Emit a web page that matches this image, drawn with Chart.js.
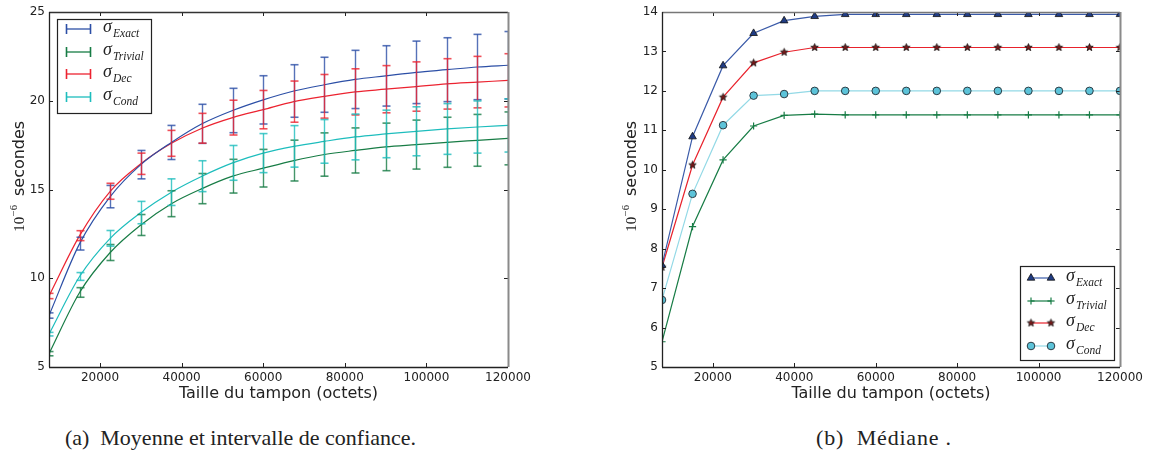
<!DOCTYPE html>
<html lang="fr">
<head>
<meta charset="utf-8">
<title>Temps de calcul selon la taille du tampon</title>
<script src="https://cdn.jsdelivr.net/npm/chart.js@4.4.1/dist/chart.umd.min.js"></script>
<style>
  html, body { margin: 0; padding: 0; background: #fff; }
  body { width: 1153px; height: 456px; position: relative; overflow: hidden; }
  .panneau { position: absolute; top: 0; height: 410px; }
  #panneauMoy { left: 0; width: 560px; }
  #panneauMed { left: 600px; width: 553px; }
  .sous-titre { position: absolute; top: 424px; height: 28px; line-height: 28px; font-family: 'Liberation Serif', serif; font-size: 22px; color: #222; text-align: center; white-space: pre; }
</style>
</head>
<body>
<div class="panneau" id="panneauMoy"><canvas id="chartMoyenne" width="560" height="410"></canvas></div>
<div class="panneau" id="panneauMed"><canvas id="chartMediane" width="553" height="410"></canvas></div>
<div class="sous-titre" style="left:0;width:481px;">(a)  Moyenne et intervalle de confiance.</div>
<div class="sous-titre" style="left:784px;width:200px;letter-spacing:0.8px;">(b)  Médiane .</div>
<script>
// tailles de tampon mesurées (octets)
const tailles = [7500, 15000, 22500, 30000, 37500, 45000, 52500, 60000, 67500, 75000, 82500, 90000, 97500, 105000, 112500, 120000];

// (a) moyenne et demi-largeur de l'intervalle de confiance, en 10^-6 s
const moyExact = [7.9, 11.95, 14.6, 16.4, 17.65, 18.7, 19.45, 20.05, 20.55, 20.9, 21.2, 21.4, 21.6, 21.75, 21.9, 22.0];
const icExact = [0.15, 0.36, 0.63, 0.8, 0.96, 1.1, 1.25, 1.36, 1.48, 1.55, 1.64, 1.7, 1.76, 1.8, 1.84, 1.9];
const moyTrivial = [5.75, 9.2, 11.45, 13.0, 14.2, 15.05, 15.75, 16.2, 16.63, 16.97, 17.2, 17.4, 17.53, 17.66, 17.77, 17.88];
const icTrivial = [0.12, 0.27, 0.45, 0.59, 0.73, 0.85, 0.95, 1.06, 1.15, 1.22, 1.27, 1.34, 1.38, 1.41, 1.46, 1.49];
const moyDec = [9.0, 12.4, 14.9, 16.45, 17.6, 18.45, 19.05, 19.5, 19.95, 20.25, 20.5, 20.65, 20.8, 20.95, 21.05, 21.15];
const icDec = [0.15, 0.28, 0.45, 0.6, 0.73, 0.84, 0.98, 1.08, 1.16, 1.23, 1.3, 1.33, 1.39, 1.42, 1.45, 1.5];
const moyCond = [6.85, 10.1, 12.25, 13.7, 14.85, 15.75, 16.5, 17.05, 17.43, 17.71, 17.96, 18.13, 18.28, 18.41, 18.52, 18.61];
const icCond = [0.1, 0.22, 0.44, 0.63, 0.75, 0.87, 0.98, 1.1, 1.17, 1.23, 1.29, 1.34, 1.38, 1.43, 1.47, 1.5];

// (b) médiane, en 10^-6 s
const medExact = [7.58, 10.84, 12.64, 13.46, 13.78, 13.89, 13.94, 13.94, 13.94, 13.94, 13.94, 13.94, 13.94, 13.94, 13.94, 13.94];
const medTrivial = [5.64, 8.56, 10.25, 11.11, 11.38, 11.41, 11.39, 11.39, 11.39, 11.39, 11.39, 11.39, 11.39, 11.39, 11.39, 11.39];
const medDec = [7.53, 10.12, 11.84, 12.71, 12.98, 13.1, 13.1, 13.1, 13.1, 13.1, 13.1, 13.1, 13.1, 13.1, 13.1, 13.1];
const medCond = [6.7, 9.39, 11.13, 11.88, 11.92, 12.0, 12.0, 12.0, 12.0, 12.0, 12.0, 12.0, 12.0, 12.0, 12.0, 12.0];

// graduations
const ticksX = [20000, 40000, 60000, 80000, 100000, 120000];
const ticksYMoy = [5, 10, 15, 20, 25];
const ticksYMed = [5, 6, 7, 8, 9, 10, 11, 12, 13, 14];

const policeAxes = { family: 'DejaVu Sans', size: 12 };

// étoile pleine (marqueur '*' de matplotlib), Chart.js n'a qu'un astérisque
function creerEtoile(rayon, remplissage) {
  const c = document.createElement('canvas');
  const t = Math.ceil(rayon * 2 + 3);
  c.width = t; c.height = t;
  const g = c.getContext('2d');
  g.beginPath();
  for (let i = 0; i < 10; i++) {
    const r = i % 2 === 0 ? rayon : rayon * 0.42;
    const ang = -Math.PI / 2 + i * Math.PI / 5;
    const px = t / 2 + r * Math.cos(ang);
    const py = t / 2 + r * Math.sin(ang);
    if (i === 0) g.moveTo(px, py); else g.lineTo(px, py);
  }
  g.closePath();
  g.fillStyle = remplissage;
  g.fill();
  g.strokeStyle = '#111';
  g.lineWidth = 0.8;
  g.stroke();
  return c;
}
const etoile = creerEtoile(3.9, '#7a1818');

function trait(ctx, x1, y1, x2, y2) {
  ctx.beginPath();
  ctx.moveTo(x1, y1);
  ctx.lineTo(x2, y2);
  ctx.stroke();
}

// barres d'erreur lues dans dataset.ecarts
const pluginBarres = {
  id: 'barresErreur',
  afterDatasetsDraw(chart) {
    const { ctx, chartArea: a, scales } = chart;
    ctx.save();
    ctx.beginPath();
    ctx.rect(a.left, a.top, a.right - a.left, a.bottom - a.top);
    ctx.clip();
    ctx.globalAlpha = 0.8;
    chart.data.datasets.forEach(ds => {
      if (!ds.ecarts) return;
      ctx.strokeStyle = ds.borderColor;
      ds.data.forEach((p, i) => {
        const x = Math.round(scales.x.getPixelForValue(p.x)) + 0.5;
        const yh = scales.y.getPixelForValue(p.y + ds.ecarts[i]);
        const yb = scales.y.getPixelForValue(p.y - ds.ecarts[i]);
        ctx.lineWidth = 1.4;
        trait(ctx, x, yh, x, yb);
        ctx.lineWidth = 1.6;
        trait(ctx, x - 4, yh, x + 4, yh);
        trait(ctx, x - 4, yb, x + 4, yb);
      });
    });
    ctx.restore();
  }
};

function dessinerMarqueur(ctx, ds, x, y) {
  const r = ds.pointRadius;
  ctx.save();
  ctx.fillStyle = ds.pointBackgroundColor;
  ctx.strokeStyle = ds.pointBorderColor;
  ctx.lineWidth = ds.pointBorderWidth;
  if (ds.pointStyle === 'triangle') {
    ctx.beginPath();
    ctx.moveTo(x, y - r);
    ctx.lineTo(x + r * 0.866, y + r / 2);
    ctx.lineTo(x - r * 0.866, y + r / 2);
    ctx.closePath();
    ctx.fill(); ctx.stroke();
  } else if (ds.pointStyle === 'cross') {
    trait(ctx, x - r, y, x + r, y);
    trait(ctx, x, y - r, x, y + r);
  } else if (ds.pointStyle === 'circle') {
    ctx.beginPath();
    ctx.arc(x, y, r, 0, Math.PI * 2);
    ctx.fill(); ctx.stroke();
  } else if (ds.pointStyle instanceof HTMLCanvasElement) {
    ctx.drawImage(ds.pointStyle, x - ds.pointStyle.width / 2, y - ds.pointStyle.height / 2);
  }
  ctx.restore();
}

// cadre, graduations intérieures, titre vertical et légende
const pluginCadre = {
  id: 'cadre',
  afterDraw(chart, args, opts) {
    const { ctx, chartArea: a, scales } = chart;
    ctx.save();
    ctx.strokeStyle = '#222';
    ctx.lineWidth = 1;
    ticksX.forEach(v => {
      const x = Math.round(scales.x.getPixelForValue(v)) + 0.5;
      trait(ctx, x, a.bottom, x, a.bottom - 4);
      trait(ctx, x, a.top, x, a.top + 4);
    });
    opts.ticksY.forEach(v => {
      const y = Math.round(scales.y.getPixelForValue(v)) + 0.5;
      trait(ctx, a.left, y, a.left + 4, y);
      trait(ctx, a.right, y, a.right - 4, y);
    });
    // côtés
    ctx.lineWidth = 1.3;
    ctx.strokeStyle = opts.couleurHaut;
    trait(ctx, a.left, a.top + 0.5, a.right, a.top + 0.5);
    ctx.strokeStyle = '#8a8a8a';
    ctx.lineWidth = 2;
    trait(ctx, a.right + 0.5, a.top, a.right + 0.5, a.bottom);
    ctx.strokeStyle = '#222';
    ctx.lineWidth = 1.3;
    trait(ctx, a.left + 0.5, a.top, a.left + 0.5, a.bottom);
    trait(ctx, a.left, a.bottom + 0.5, a.right, a.bottom + 0.5);

    // titre vertical : 10^-6 secondes
    ctx.save();
    ctx.translate(opts.xTitre, (a.top + a.bottom) / 2 - 13);
    ctx.rotate(-Math.PI / 2);
    ctx.fillStyle = '#222';
    ctx.textBaseline = 'alphabetic';
    const fDix = '15px "Liberation Serif"';
    const fExp = '10.5px "Liberation Serif"';
    const fMot = '16px "DejaVu Sans"';
    ctx.font = fDix; const wDix = ctx.measureText('10').width;
    ctx.font = fExp; const wExp = ctx.measureText('\u22126').width;
    ctx.font = fMot; const wMot = ctx.measureText('secondes').width;
    const ecart = 9;
    let px = -(wDix + wExp + ecart + wMot) / 2;
    ctx.font = fDix; ctx.fillText('10', px, 6);
    px += wDix + 0.5;
    ctx.font = fExp; ctx.fillText('\u22126', px, -1);
    px += wExp + ecart;
    ctx.font = fMot; ctx.fillText('secondes', px, 6);
    ctx.restore();

    // légende
    const L = 94, H = 94;
    const gx = opts.legende === 'haut-gauche' ? a.left + 8 : a.right - 6 - L;
    const gy = opts.legende === 'haut-gauche' ? a.top + 7 : a.bottom - 7 - H;
    ctx.fillStyle = '#fff';
    ctx.fillRect(gx, gy, L, H);
    ctx.strokeStyle = '#222';
    ctx.lineWidth = 1.2;
    ctx.strokeRect(gx + 0.5, gy + 0.5, L, H);
    const pasY = [10, 33, 55, 78];
    chart.data.datasets.forEach((ds, i) => {
      const y = gy + pasY[i] + (opts.legende === 'haut-gauche' ? 0 : 2);
      ctx.strokeStyle = ds.borderColor;
      if (opts.legende === 'haut-gauche') {
        ctx.lineWidth = 1.3;
        trait(ctx, gx + 9, y, gx + 34, y);
        ctx.lineWidth = 1.6;
        trait(ctx, gx + 9.5, y - 5, gx + 9.5, y + 5);
        trait(ctx, gx + 33.5, y - 5, gx + 33.5, y + 5);
      } else {
        ctx.lineWidth = ds.borderWidth;
        trait(ctx, gx + 11, y, gx + 31, y);
        dessinerMarqueur(ctx, ds, gx + 11, y);
        dessinerMarqueur(ctx, ds, gx + 31, y);
      }
      ctx.fillStyle = '#222';
      ctx.font = 'italic 18px "Liberation Serif"';
      ctx.fillText('\u03c3', gx + 46, y + 3);
      ctx.font = 'italic 11.5px "Liberation Serif"';
      ctx.fillText(ds.label, gx + 56, y + 8);
    });
    ctx.restore();
  }
};

function points(valeurs) {
  return tailles.map((t, i) => ({ x: t, y: valeurs[i] }));
}

function axeX() {
  return {
    type: 'linear',
    min: 7500,
    max: 120000,
    afterBuildTicks: s => { s.ticks = ticksX.map(v => ({ value: v })); },
    afterFit: s => { s.height = 43; },
    grid: { display: false, drawTicks: false },
    border: { display: false },
    ticks: { font: policeAxes, color: '#222', padding: 4, maxRotation: 0, autoSkip: false, callback: v => String(v) },
    title: { display: true, text: 'Taille du tampon (octets)', font: { family: 'DejaVu Sans', size: 16 }, color: '#222', padding: { top: 0, bottom: 7 } }
  };
}

function axeY(min, max, graduations, largeur) {
  return {
    type: 'linear',
    min,
    max,
    afterBuildTicks: s => { s.ticks = graduations.map(v => ({ value: v })); },
    afterFit: s => { s.width = largeur; },
    grid: { display: false, drawTicks: false },
    border: { display: false },
    ticks: { font: policeAxes, color: '#222', padding: 4, callback: v => String(v) }
  };
}

function serieMoyenne(label, valeurs, ecarts, couleur) {
  return {
    label,
    data: points(valeurs),
    ecarts,
    borderColor: couleur,
    borderWidth: 1.2,
    pointRadius: 0,
    cubicInterpolationMode: 'monotone',
    clip: 0
  };
}

function serieMediane(label, valeurs, couleur, style, rayon, fond, bord, largeurBord) {
  return {
    label,
    data: points(valeurs),
    borderColor: couleur,
    borderWidth: 1.2,
    pointStyle: style,
    pointRadius: rayon,
    pointBackgroundColor: fond,
    pointBorderColor: bord,
    pointBorderWidth: largeurBord,
    tension: 0,
    clip: 0
  };
}

new Chart(document.getElementById('chartMoyenne'), {
  type: 'line',
  data: {
    datasets: [
      serieMoyenne('Exact', moyExact, icExact, '#2c4fa6'),
      serieMoyenne('Trivial', moyTrivial, icTrivial, '#177c45'),
      serieMoyenne('Dec', moyDec, icDec, '#ec2330'),
      serieMoyenne('Cond', moyCond, icCond, '#1dbdbd')
    ]
  },
  options: {
    responsive: false,
    devicePixelRatio: 1,
    animation: false,
    layout: { padding: { top: 12, right: 52, bottom: 0, left: 0 } },
    scales: { x: axeX(), y: axeY(5, 25, ticksYMoy, 49) },
    plugins: {
      legend: { display: false },
      tooltip: { enabled: false },
      cadre: { ticksY: ticksYMoy, xTitre: 18, legende: 'haut-gauche', couleurHaut: '#333' }
    }
  },
  plugins: [pluginBarres, pluginCadre]
});

new Chart(document.getElementById('chartMediane'), {
  type: 'line',
  data: {
    datasets: [
      serieMediane('Exact', medExact, '#3a5aa8', 'triangle', 4.4, '#203c84', '#111', 0.8),
      serieMediane('Trivial', medTrivial, '#177c45', 'cross', 3.6, '#177c45', '#177c45', 1.2),
      serieMediane('Dec', medDec, '#e8222c', etoile, 3.5, '#7a1818', '#111', 0.8),
      serieMediane('Cond', medCond, '#93d9e6', 'circle', 3.8, '#5cc3d9', '#2c3c44', 1)
    ]
  },
  options: {
    responsive: false,
    devicePixelRatio: 1,
    animation: false,
    layout: { padding: { top: 12, right: 33, bottom: 0, left: 0 } },
    scales: { x: axeX(), y: axeY(5, 14, ticksYMed, 62) },
    plugins: {
      legend: { display: false },
      tooltip: { enabled: false },
      cadre: { ticksY: ticksYMed, xTitre: 30, legende: 'bas-droite', couleurHaut: '#777' }
    }
  },
  plugins: [pluginCadre]
});
</script>
</body>
</html>
